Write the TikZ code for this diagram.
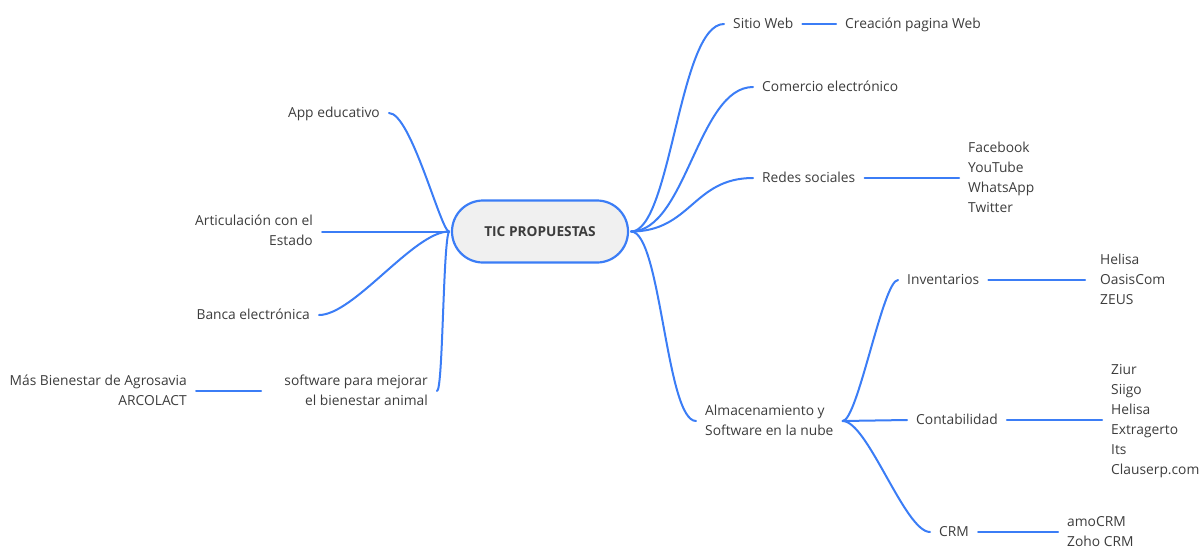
\documentclass[tikz,border=0pt]{standalone}
\usepackage{fontspec}
\setmainfont{Open Sans}
\definecolor{lineblue}{HTML}{3B7DF6}
\definecolor{txt}{HTML}{3C3C3C}
\definecolor{rootfill}{HTML}{F0F0F0}
\newcommand{\st}{\rule[-6pt]{0pt}{20pt}}
\begin{document}
\begin{tikzpicture}[x=1pt,y=-1pt,
  lbl/.style={font=\fontsize{13.8}{20}\selectfont, text=txt, inner xsep=9pt, inner ysep=0pt},
  lleft/.style={lbl, anchor=east, align=right},
  lright/.style={lbl, anchor=west, align=left},
  conn/.style={draw=lineblue, line width=2pt, line cap=round},
  rootbox/.style={draw=lineblue, line width=2.2pt, fill=rootfill, rounded corners=31pt,
    minimum width=176pt, minimum height=62pt, text=txt,
    font=\bfseries\fontsize{13.7}{16}\selectfont}
]
\useasboundingbox (0,0) rectangle (1201,546);

% root
\node[rootbox] (root) at (540,231.5) {TIC PROPUESTAS};
\coordinate (lhub) at (449,231.5);
\coordinate (rhub) at (631,231.5);

% left side
\node[lleft] (app) at (389,113) {\st App educativo};
\node[lleft] (art) at (322,231.5) {\st Articulación con el\\Estado\st};
\node[lleft] (banca) at (319,315) {\st Banca electrónica};
\node[lleft] (soft) at (437,391) {\st software para mejorar\\el bienestar animal\st};
\node[lleft] (mas) at (196,391) {\st Más Bienestar de Agrosavia\\ARCOLACT\st};

% right side
\node[lright] (sitio) at (724,24) {\st Sitio Web};
\node[lright] (creacion) at (836,24) {\st Creación pagina Web};
\node[lright] (comercio) at (753,87) {\st Comercio electrónico};
\node[lright] (redes) at (753,178) {\st Redes sociales};
\node[lright] (redeslist) at (959,178) {\st Facebook\\YouTube\\WhatsApp\\Twitter\st};
\node[lright] (alm) at (696,421) {\st Almacenamiento y\\Software en la nube\st};
\node[lright] (inv) at (898,280) {\st Inventarios};
\node[lright] (invlist) at (1091,280) {\st Helisa\\OasisCom\\ZEUS\st};
\node[lright] (cont) at (907,420) {\st Contabilidad};
\node[lright] (contlist) at (1102,420) {\st Ziur\\Siigo\\Helisa\\Extragerto\\Its\\Clauserp.com\st};
\node[lright] (crm) at (930,532) {\st CRM};
\node[lright] (crmlist) at (1058,532) {\st amoCRM\\Zoho CRM\st};

% left connectors
\draw[conn] (lhub) .. controls +(-8,0) and +(22,0) .. (app.east);
\draw[conn] (lhub) -- (art.east);
\draw[conn] (lhub) .. controls +(-35,0) and +(35,0) .. (banca.east);
\draw[conn] (lhub) .. controls +(-6,10) and +(6,0) .. (soft.east);
\draw[conn] (mas.east) -- ([xshift=-14pt]soft.west);

% right connectors
\draw[conn] (rhub) .. controls +(40,0) and +(-45,0) .. (sitio.west);
\draw[conn] (sitio.east) -- (creacion.west);
\draw[conn] (rhub) .. controls +(55,0) and +(-55,0) .. (comercio.west);
\draw[conn] (rhub) .. controls +(60,0) and +(-60,0) .. (redes.west);
\draw[conn] (redes.east) -- (redeslist.west);
\draw[conn] (rhub) .. controls +(30,0) and +(-30,0) .. (alm.west);
\draw[conn] (alm.east) .. controls +(15,0) and +(-15,0) .. (inv.west);
\draw[conn] (alm.east) -- (cont.west);
\draw[conn] (alm.east) .. controls +(25,0) and +(-25,0) .. (crm.west);
\draw[conn] (inv.east) -- ([xshift=-6pt]invlist.west);
\draw[conn] (cont.east) -- (contlist.west);
\draw[conn] (crm.east) -- (crmlist.west);
\end{tikzpicture}
\end{document}
